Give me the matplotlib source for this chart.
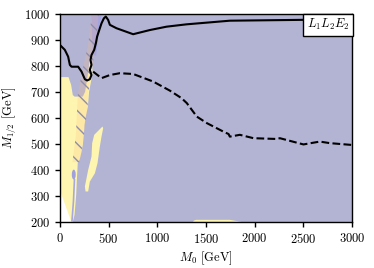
import numpy as np
import matplotlib
matplotlib.use("Agg")
import matplotlib.pyplot as plt
from matplotlib.patches import Polygon, Ellipse

plt.rcParams['font.family'] = 'serif'
plt.rcParams['font.serif'] = ['cmr10']
plt.rcParams['mathtext.fontset'] = 'cm'
plt.rcParams['axes.formatter.use_mathtext'] = True
plt.rcParams['hatch.linewidth'] = 1.0
plt.rcParams['hatch.color'] = '#8e8eaa'

# solid exclusion line (M0, M1/2)
solid_m0 = [0, 51, 85, 103, 120, 188, 223, 257, 280, 308, 325, 308, 325, 315, 325,
            353, 370, 383, 411, 428, 452, 472, 496, 514, 582, 753, 924, 1096, 1301,
            1746, 2434, 3000]
solid_m12 = [881, 862, 836, 804, 797, 797, 778, 749, 744, 749, 765, 785, 804, 823, 842,
             862, 887, 913, 945, 964, 983, 990, 977, 958, 945, 922, 938, 951, 960,
             974, 977, 980]

# dashed expected line
dash_m0 = [342, 428, 514, 616, 753, 958, 1130, 1250, 1304, 1407, 1510, 1681, 1733,
           1746, 1849, 1989, 2229, 2260, 2502, 2670, 2773, 3000]
dash_m12 = [778, 753, 765, 772, 769, 740, 705, 676, 657, 605, 580, 547, 538,
            528, 535, 522, 519, 522, 498, 509, 503, 496]

# allowed (yellow) region
yellow_m0 = [0, 0, 89, 116, 133, 151, 236, 260, 285, 310, 330, 335, 300, 288, 270,
             253, 246, 236, 219, 202, 185, 175, 168, 151, 133]
yellow_m12 = [200, 757, 757, 727, 688, 682, 682, 701, 760, 830, 830, 770, 700, 643, 612,
              573, 535, 496, 464, 438, 432, 362, 304, 227, 200]

blob_m0 = [353, 332, 325, 291, 257, 264, 291, 308, 360, 387, 411, 428, 445, 438]
blob_m12 = [535, 503, 451, 400, 336, 317, 317, 355, 387, 426, 490, 528, 560, 567]

bottom_m0 = [1369, 1375, 1400, 1746, 1866]
bottom_m12 = [200, 205, 208, 208, 200]

white_m0 = [0, 0, 118]
white_m12 = [200, 323, 200]

# hatched band
band_m0 = [130, 165, 185, 230, 290, 330, 400, 370, 330, 290, 285, 250, 205]
band_m12 = [430, 535, 690, 780, 880, 1000, 1000, 880, 790, 690, 640, 540, 430]

# light blue strip at top
blue_m0 = [325, 430, 405, 385, 372, 342, 330]
blue_m12 = [1000, 1000, 950, 880, 840, 840, 900]

purple = '#b3b3d3'
yellow = '#fdf5b0'

fig = plt.figure(figsize=(3.74, 2.68), dpi=100)
ax = fig.add_axes([0.160, 0.172, 0.781, 0.776])
ax.set_facecolor(purple)

ax.add_patch(Polygon(np.column_stack([yellow_m0, yellow_m12]), closed=True,
                     facecolor=yellow, edgecolor='none', zorder=1))
ax.add_patch(Polygon(np.column_stack([blob_m0, blob_m12]), closed=True,
                     facecolor=yellow, edgecolor='none', zorder=1))
ax.add_patch(Polygon(np.column_stack([bottom_m0, bottom_m12]), closed=True,
                     facecolor=yellow, edgecolor='none', zorder=1))
ax.add_patch(Polygon(np.column_stack([white_m0, white_m12]), closed=True,
                     facecolor='white', edgecolor='none', zorder=1.5))
ax.add_patch(Polygon(np.column_stack([blue_m0, blue_m12]), closed=True,
                     facecolor='#a4a4e2', edgecolor='none', zorder=1.6))
ax.add_patch(Ellipse((143, 382), 40, 38, facecolor='#a0a0dc', edgecolor='none', zorder=1.6))
ax.plot([150, 140, 125], [362, 280, 205], color='#a8a8e0', lw=1.2, zorder=1.6)
ax.add_patch(Polygon(np.column_stack([band_m0, band_m12]), closed=True,
                     facecolor=(1.0, 0.75, 0.5, 0.22), edgecolor='#8e8eaa', lw=0,
                     hatch='\\\\', zorder=1.7))

ax.plot(solid_m0, solid_m12, color='black', lw=1.5, zorder=3)
ax.plot(dash_m0, dash_m12, color='black', lw=1.5, ls='--', zorder=3)

ax.text(2975, 987, r'$L_1L_2E_2$', ha='right', va='top', fontsize=9, zorder=5,
        bbox=dict(boxstyle='square,pad=0.3', facecolor='white', edgecolor='black', lw=1))

ax.set_xlim(0, 3000)
ax.set_ylim(200, 1000)
ax.set_xticks([0, 500, 1000, 1500, 2000, 2500, 3000])
ax.set_yticks([200, 300, 400, 500, 600, 700, 800, 900, 1000])
ax.tick_params(direction='out', length=3.5, width=1, labelsize=9)
ax.set_xlabel(r'$M_0$ [GeV]', fontsize=9, labelpad=3)
ax.set_ylabel(r'$M_{1/2}$ [GeV]', fontsize=9, labelpad=3)
for s in ax.spines.values():
    s.set_linewidth(1.0)

fig.savefig('out.png', dpi=100)
